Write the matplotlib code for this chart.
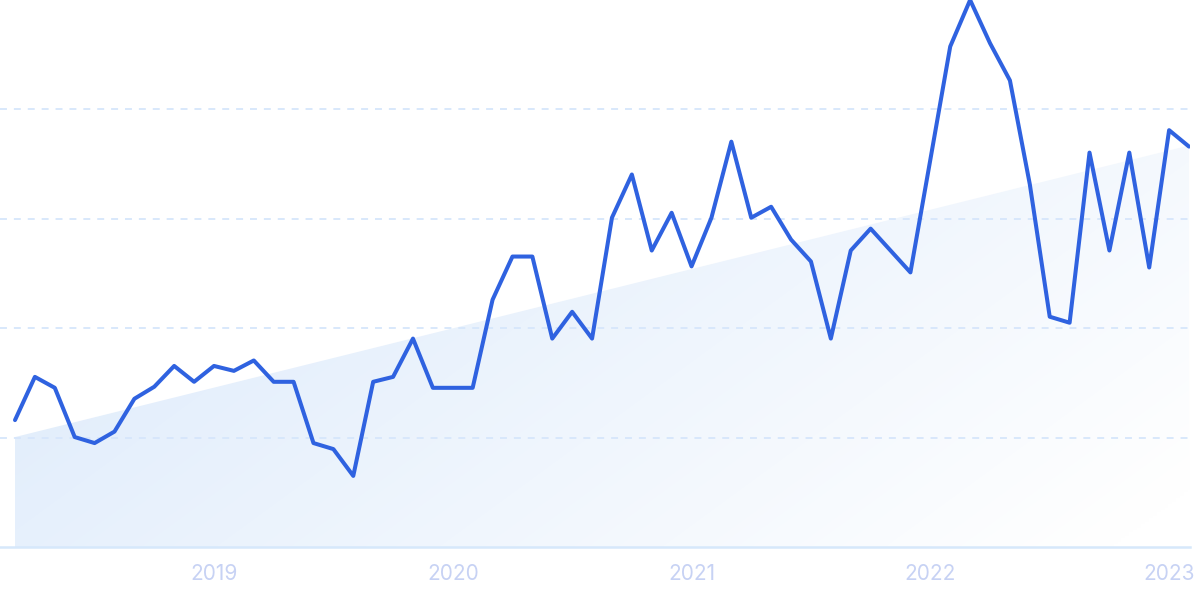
import numpy as np
import pandas as pd
import matplotlib
matplotlib.use("Agg")
import matplotlib.pyplot as plt
from matplotlib.patches import Polygon

# monthly interest, 2018-03 .. 2023-02
months = pd.date_range("2018-03-01", periods=60, freq="MS")
values = [
    23.2, 31.1, 29.1, 20.1, 19.0, 21.1, 27.1, 29.3, 33.1, 30.2,
    33.1, 32.2, 34.1, 30.2, 30.2, 19.0, 17.9, 13.0, 30.2, 31.1,
    38.1, 29.1, 29.1, 29.1, 45.2, 53.1, 53.1, 38.1, 43.0, 38.1,
    60.2, 68.1, 54.2, 61.1, 51.3, 60.2, 74.1, 60.2, 62.2, 56.2,
    52.2, 38.1, 54.2, 58.2, 54.2, 50.2, 70.8, 91.5, 100.0, 92.1,
    85.3, 66.3, 42.1, 41.0, 72.1, 54.2, 72.1, 51.1, 76.2, 73.2,
]
trend_start = 20.1
trend_end = 73.4
grid_levels = [20, 40, 60, 80]

x = np.arange(len(values))
year_idx = [i for i, m in enumerate(months) if m.month == 1]
year_labels = [str(months[i].year) for i in year_idx]

plt.rcParams["font.family"] = ["Inter", "DejaVu Sans"]
plt.rcParams["lines.scale_dashes"] = False

fig = plt.figure(figsize=(12, 5.99), dpi=100)
ax = fig.add_axes([0, 52 / 599, 1190 / 1200, 547 / 599])
ax.set_xlim(-0.754, 59.05)
ax.set_ylim(0, 100)

# gradient trend area
xmax = x[-1]
poly = Polygon([(0, 0), (0, trend_start), (xmax, trend_end), (xmax, 0)],
               closed=True, facecolor="none", edgecolor="none")
ax.add_patch(poly)
gx, gy = np.meshgrid(np.linspace(0, 1, 300), np.linspace(1, 0, 200))
t = np.clip(0.75 * gx + 0.35 * (1 - gy) - 0.05, 0, 1)
c0 = np.array([220, 234, 251]) / 255
c1 = np.array([255, 255, 255]) / 255
img = c0[None, None, :] * (1 - t[..., None]) + c1[None, None, :] * t[..., None]
im = ax.imshow(img, extent=[0, xmax, 0, trend_end], aspect="auto",
               origin="upper", zorder=1, interpolation="bilinear")
im.set_clip_path(poly)

for g in grid_levels:
    ax.axhline(g, color="#d6e6fb", lw=1.3, ls=(0, (5, 5)), zorder=2)
ax.axhline(0, color="#d6e8fb", lw=1.8, zorder=2, clip_on=False)

ax.plot(x, values, color="#2f62e0", lw=2.9, solid_joinstyle="round",
        solid_capstyle="round", zorder=3)

for s in ax.spines.values():
    s.set_visible(False)
ax.set_yticks([])
ax.set_xticks(year_idx)
ax.set_xticklabels(year_labels, fontsize=15, color="#c7d2f4")
ax.tick_params(axis="x", length=0, pad=12)

fig.savefig("out.png", dpi=100)
